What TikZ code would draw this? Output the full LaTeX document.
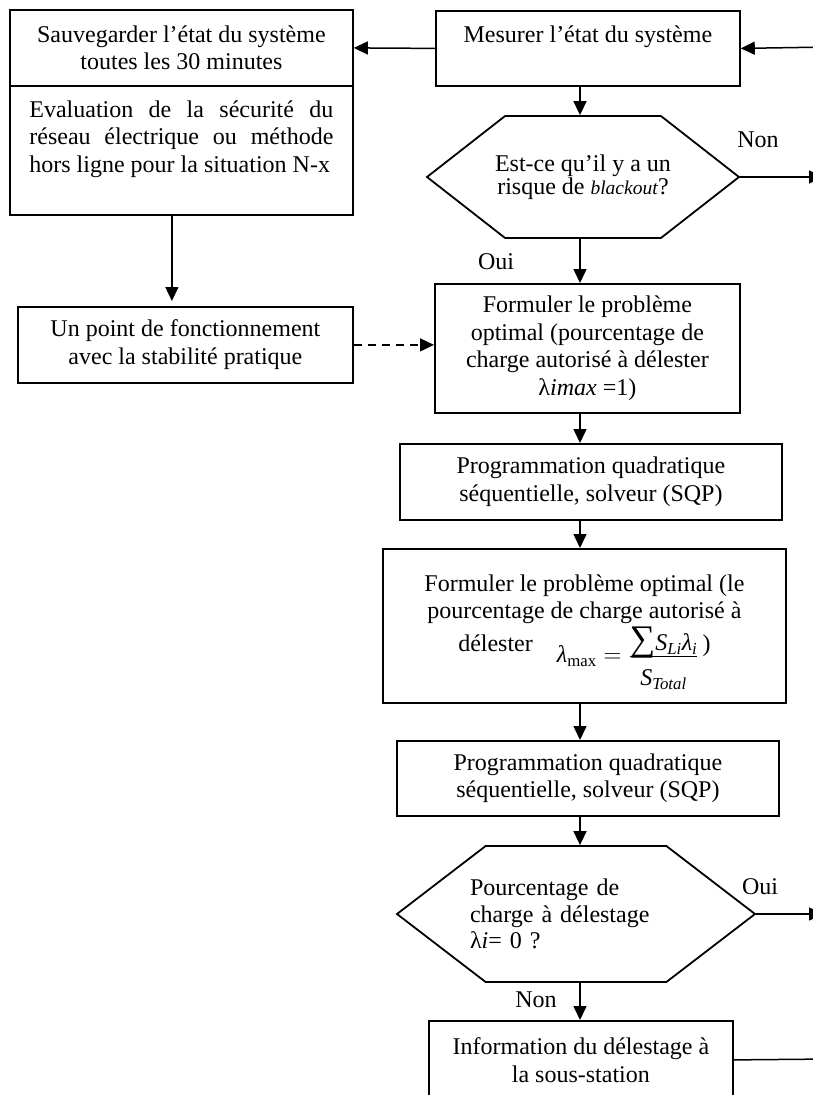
\documentclass[tikz,border=0pt]{standalone}
\usepackage{amsmath}
\usepackage{fontspec}
\setmainfont{Liberation Serif}
\usetikzlibrary{positioning,arrows.meta,shapes.symbols}
\newcommand\mv[1]{\text{\itshape #1}}

\begin{document}
\begin{tikzpicture}[
  x=1pt,y=-1pt,
  font=\fontsize{24}{27.6}\selectfont,
  stepbox/.style={draw,line width=1.8pt,align=center,inner sep=0pt,anchor=north west},
  testbox/.style={draw,line width=1.8pt,shape=signal,signal to=east and west,inner sep=0pt},
  lbl/.style={inner sep=0pt},
  arr/.style={-{Triangle[length=14pt,width=13pt]},line width=1.5pt}
]
\useasboundingbox (0,0) rectangle (812,1095);
\coordinate (axis) at (580,0);

% left column
\node[stepbox,minimum width=343pt,minimum height=76pt] (save) at (9,9) {Sauvegarder l'état du système\\toutes les 30 minutes};
\node[stepbox,minimum width=343pt,minimum height=129pt,text width=304pt,align=justify] (eval) at (9,85)
  {Evaluation de la sécurité du\linebreak réseau électrique ou méthode\linebreak hors ligne pour la situation \mbox{N-x}\\\mbox{}};
\node[stepbox,minimum width=335pt,minimum height=76pt] (upt) at (17,306) {Un point de fonctionnement\\avec la stabilité pratique};

% main column
\node[stepbox,minimum width=304pt,minimum height=75pt] (mes) at (435,10) {Mesurer l'état du système\\\mbox{}};
\node[testbox,minimum width=312pt,minimum height=122pt,signal pointer angle=76,font=\fontsize{24}{23}\selectfont,align=center] (q1) at (583,177)
  {\makebox[150pt]{Est-ce qu'il y a un}\\\makebox[150pt]{risque de \textit{\fontsize{19.5}{23}\selectfont blackout}?}};
\node[stepbox,minimum width=305pt,minimum height=129pt] (f1) at (434,283)
  {Formuler le problème\\optimal (pourcentage de\\charge autorisé à délester\\λ\textit{imax} =1)};
\node[stepbox,minimum width=382pt,minimum height=76pt] (p1) at (399,443) {Programmation quadratique\\séquentielle, solveur (SQP)};
\node[stepbox,minimum width=403pt,minimum height=154pt] (f2) at (382,548)
  {\rule{0pt}{29pt}Formuler le problème optimal (le\\pourcentage de charge autorisé à\\[5pt]délester\quad
   \raisebox{-11pt}{$\mv{λ}_{\text{max}}=\frac{\displaystyle\smash{\text{\fontsize{36}{36}\selectfont ∑}}\mv{S}_{\mv{Li}}\mv{λ}_{\mv{i}}}{\displaystyle\rule{0pt}{28pt}\mv{S}_{\mv{Total}}}$}\,)};
\node[stepbox,minimum width=382pt,minimum height=75pt] (p2) at (396,740) {Programmation quadratique\\séquentielle, solveur (SQP)};
\node[testbox,minimum width=358pt,minimum height=136pt,signal pointer angle=75,text width=180pt,align=left,font=\fontsize{24}{26.5}\selectfont] (q2) at (576,914)
  {\hspace*{-16pt}Pourcentage de\\\hspace*{-16pt}charge à délestage\\\hspace*{-16pt}λ\textit{i}= 0 ?};
\node[stepbox,minimum width=304pt,minimum height=78pt] (info) at (428,1020) {Information du délestage à\\la sous-station};

% loose ends on the right
\coordinate (rin) at (830,47);
\coordinate (rnon) at (823,177);
\coordinate (roui) at (823,914);
\coordinate (rinfo) at (830,1059);

% answers
\node[lbl] (non1) at (758,140) {Non};
\node[lbl] (oui1) at (496,262) {Oui};
\node[lbl] (oui2) at (760,887) {Oui};
\node[lbl] (non2) at (536,1000) {Non};

\draw[arr] (rin) -- (mes.east);
\draw[arr] (mes.west) -- (save.east);
\draw[arr,shorten >=5pt] ([xshift=-9.5pt]eval.south) -- ([xshift=-9.5pt]eval.south |- upt.north);
\draw[arr,dash pattern=on 8pt off 6pt] (upt.east) -- (upt.east -| f1.west);
\draw[arr] (mes.south -| axis) -- (q1.north -| axis);
\draw[arr] (q1.east) -- (rnon);
\draw[arr] (q1.south -| axis) -- (f1.north -| axis);
\draw[arr] (f1.south -| axis) -- (p1.north -| axis);
\draw[arr] (p1.south -| axis) -- (f2.north -| axis);
\draw[arr] (f2.south -| axis) -- (p2.north -| axis);
\draw[arr] (p2.south -| axis) -- (q2.north -| axis);
\draw[arr] (q2.east) -- (roui);
\draw[arr] (q2.south -| axis) -- (info.north -| axis);
\draw[line width=1.5pt] (info.east) -- (rinfo);
\end{tikzpicture}
\end{document}
